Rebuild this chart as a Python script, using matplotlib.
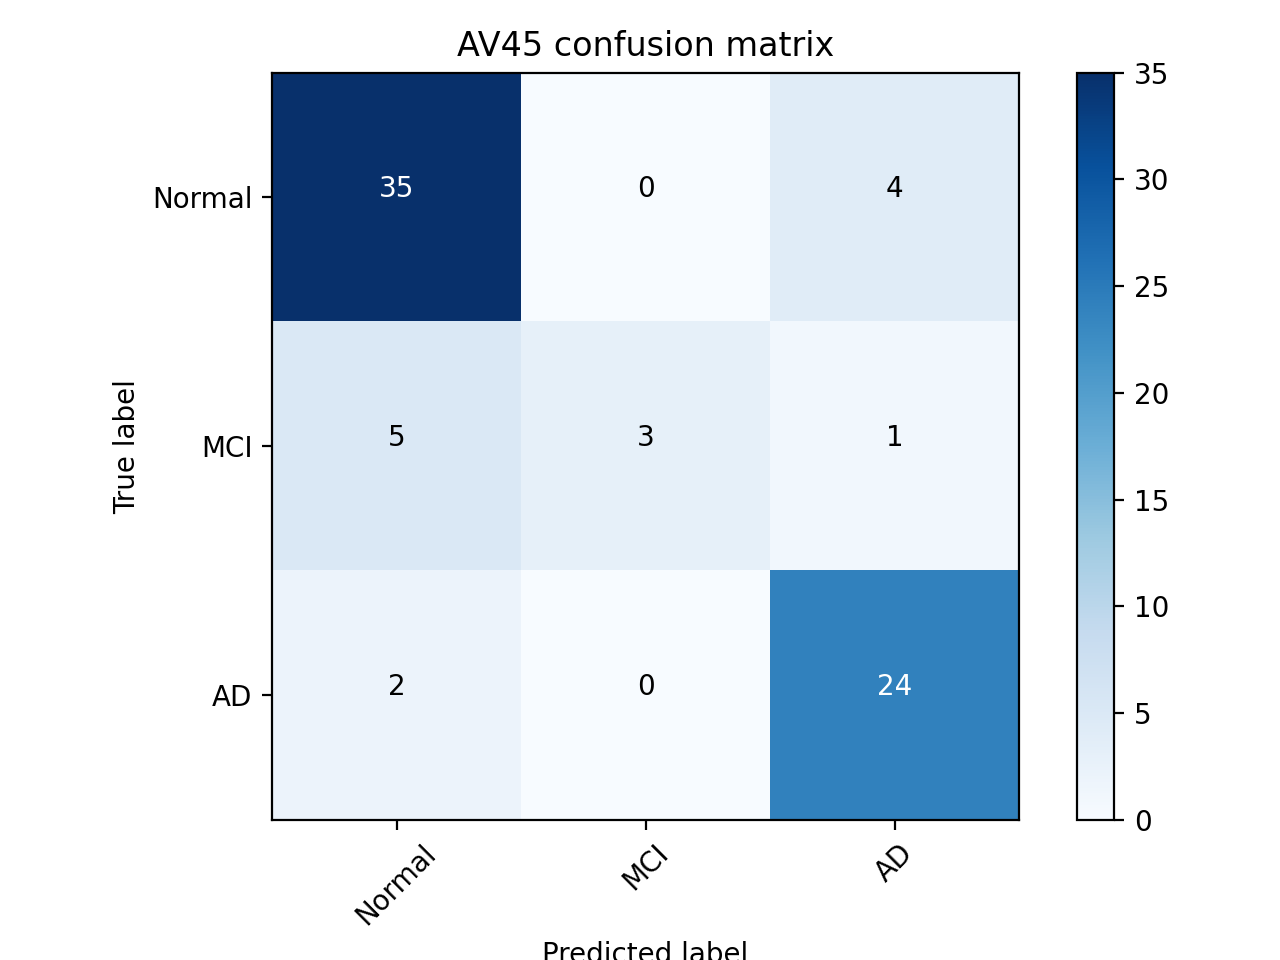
import itertools

import matplotlib
matplotlib.use("Agg")
import matplotlib.pyplot as plt
import numpy as np

# confusion matrix values (rows = true, cols = predicted)
classes = ["Normal", "MCI", "AD"]
row_normal = [35, 0, 4]
row_mci = [5, 3, 1]
row_ad = [2, 0, 24]
title = "AV45 confusion matrix"

cm = np.array([row_normal, row_mci, row_ad])

fig = plt.figure(figsize=(6.4, 4.8), dpi=200)
plt.imshow(cm, interpolation="nearest", cmap=plt.cm.Blues)
plt.title(title)
plt.colorbar()
tick_marks = np.arange(len(classes))
plt.xticks(tick_marks, classes, rotation=45)
plt.yticks(tick_marks, classes)

thresh = cm.max() / 2.0
for i, j in itertools.product(range(cm.shape[0]), range(cm.shape[1])):
    plt.text(j, i, format(cm[i, j], "d"),
             horizontalalignment="center",
             color="white" if cm[i, j] > thresh else "black")

# layout is fixed before the axis labels are added, as in the original
plt.tight_layout()
plt.ylabel("True label")
plt.xlabel("Predicted label")

fig.savefig("out.png", dpi=200)
